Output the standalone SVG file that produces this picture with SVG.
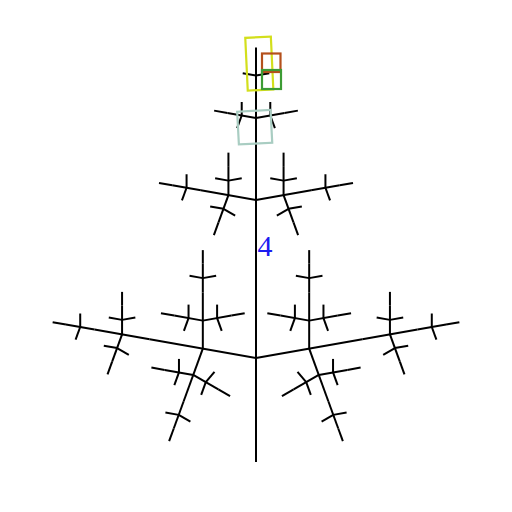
<svg xmlns="http://www.w3.org/2000/svg" width="512" height="512" viewBox="0 0 512 512">
  <style>
    .box { fill: none; stroke-width: 2.2; }
    .label { font-family: "Liberation Serif", "Times New Roman", serif; font-size: 30px; fill: #1c1cf0; }
  </style>
  <defs>
    <g id="t0">
      <line x1="0" y1="0" x2="0" y2="-13.5"/>
    </g>
    <g id="t1">
      <line x1="0" y1="0" x2="0" y2="-29"/>
      <use href="#t0" transform="translate(0,-14.5) rotate(-80)"/>
      <use href="#t0" transform="translate(0,-14.5) rotate(80)"/>
      <use href="#t0" transform="translate(0,-29)"/>
    </g>
    <g id="t2">
      <line x1="0" y1="0" x2="0" y2="-56"/>
      <use href="#t1" transform="translate(0,-28) rotate(-80)"/>
      <use href="#t1" transform="translate(0,-28) rotate(80)"/>
      <use href="#t1" transform="translate(0,-56)"/>
    </g>
    <g id="t3">
      <line x1="0" y1="0" x2="0" y2="-108"/>
      <use href="#t2" transform="translate(0,-54) rotate(-80)"/>
      <use href="#t2" transform="translate(0,-54) rotate(80)"/>
      <use href="#t2" transform="translate(0,-108)"/>
    </g>
    <g id="t4">
      <line x1="0" y1="0" x2="0" y2="-208"/>
      <use href="#t3" transform="translate(0,-104) rotate(-80)"/>
      <use href="#t3" transform="translate(0,-104) rotate(80)"/>
      <use href="#t3" transform="translate(0,-208)"/>
    </g>
  </defs>
  <rect width="512" height="512" fill="#ffffff"/>
  <g id="tree" stroke="#000000" stroke-width="2" fill="none">
    <use href="#t4" transform="translate(256,462)"/>
  </g>
  <g id="boxes">
    <rect id="box-teal" class="box" stroke="#a9cdc2" x="-16.7" y="-16.4" width="33.4" height="32.8" transform="translate(254.7,127.2) rotate(-3)"/>
    <rect id="box-yellow" class="box" stroke="#d3df1c" x="-12.8" y="-26.4" width="25.6" height="52.8" transform="translate(259.3,63.6) rotate(-2.7)"/>
    <rect id="box-brown" class="box" stroke="#b4501c" x="262" y="53.5" width="18.5" height="18.5"/>
    <rect id="box-green" class="box" stroke="#3c9c34" x="262" y="70" width="19" height="19"/>
  </g>
  <text id="label-4" class="label" x="257.5" y="256">4</text>
</svg>
